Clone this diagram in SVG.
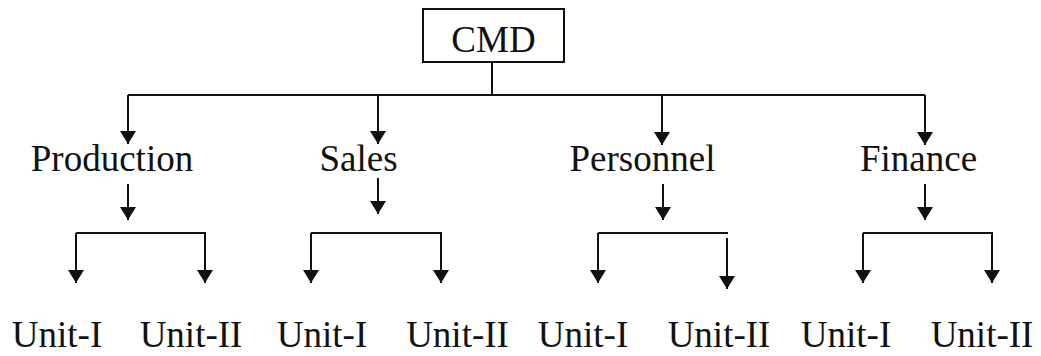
<svg xmlns="http://www.w3.org/2000/svg" width="1041" height="356" viewBox="0 0 1041 356">
<style>
text{font-family:"Liberation Serif","Times New Roman",serif;font-size:37px;fill:#111;text-anchor:middle}
.c line,.c polyline{stroke:#111;stroke-width:2;fill:none}
.a{marker-end:url(#ah)}
</style>
<defs>
<marker id="ah" markerUnits="userSpaceOnUse" markerWidth="13" markerHeight="16" refX="13" refY="8" orient="auto">
<path d="M0,0 L13,8 L0,16 z" fill="#111"/>
</marker>
</defs>
<rect width="1041" height="356" fill="#fff"/>
<g id="cmd">
<rect x="423" y="9" width="141" height="53" fill="#fff" stroke="#111" stroke-width="2"/>
<text x="493.5" y="52">CMD</text>
</g>
<g id="production"><text x="112" y="171">Production</text></g>
<g id="sales"><text x="358.5" y="171">Sales</text></g>
<g id="personnel"><text x="642.5" y="171">Personnel</text></g>
<g id="finance"><text x="918.5" y="171">Finance</text></g>
<g id="p-u1"><text x="57" y="347">Unit-I</text></g>
<g id="p-u2"><text x="191" y="347">Unit-II</text></g>
<g id="s-u1"><text x="322" y="347">Unit-I</text></g>
<g id="s-u2"><text x="457.5" y="347">Unit-II</text></g>
<g id="pe-u1"><text x="583" y="347">Unit-I</text></g>
<g id="pe-u2"><text x="719" y="347">Unit-II</text></g>
<g id="f-u1"><text x="846" y="347">Unit-I</text></g>
<g id="f-u2"><text x="982" y="347">Unit-II</text></g>
<g id="connectors" class="c">
<line x1="492" y1="62" x2="492" y2="95"/>
<line x1="128" y1="95" x2="925" y2="95"/>
<line class="a" x1="128" y1="95" x2="128" y2="144"/>
<line class="a" x1="378" y1="95" x2="378" y2="144"/>
<line class="a" x1="662" y1="95" x2="662" y2="145"/>
<line class="a" x1="925" y1="95" x2="925" y2="145"/>
<line class="a" x1="128" y1="184" x2="128" y2="220"/>
<line class="a" x1="378" y1="178" x2="378" y2="214"/>
<line class="a" x1="663" y1="184" x2="663" y2="220"/>
<line class="a" x1="925" y1="184" x2="925" y2="220"/>
<polyline class="a" points="76,233 205,233 205,283"/>
<line class="a" x1="76" y1="233" x2="76" y2="283"/>
<line class="a" x1="311" y1="233" x2="311" y2="283"/>
<polyline class="a" points="311,233 441,233 441,283"/>
<polyline points="598,233 728,233"/>
<line class="a" x1="598" y1="233" x2="598" y2="283"/>
<line class="a" x1="727" y1="238" x2="727" y2="289"/>
<line class="a" x1="863" y1="233" x2="863" y2="283"/>
<polyline class="a" points="863,233 992,233 992,283"/>
</g>
</svg>
